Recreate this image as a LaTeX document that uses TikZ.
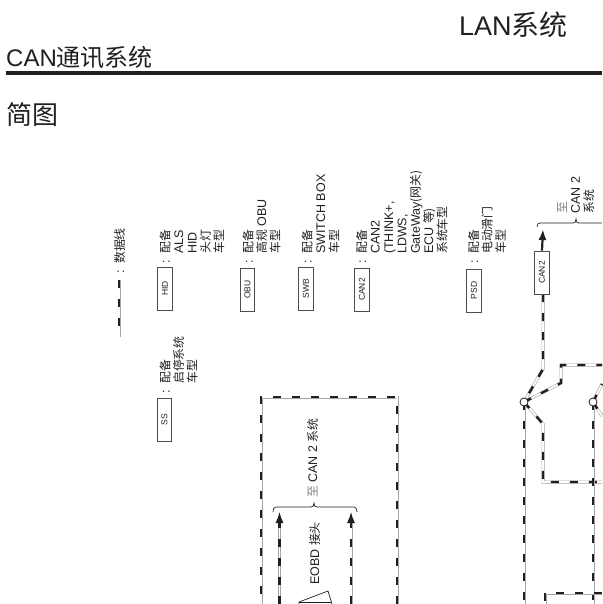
\documentclass[tikz,border=0pt]{standalone}
\usepackage{fontspec}
\setmainfont{Liberation Sans}
\newfontfamily\cjk{Noto Sans CJK SC}
\newfontfamily\cjks[Scale=0.95]{Noto Sans CJK SC}
\usetikzlibrary{arrows.meta}
\definecolor{ink}{HTML}{231F20}
\newcommand{\cln}{\llap{:\hspace{6.5pt}}}
\tikzset{
 canline/.style={preaction={draw=gray!70,line width=3pt,solid},preaction={draw=white,line width=1.8pt,solid},draw=ink,line width=2.4pt,dash pattern=on 8pt off 11pt},
 tagbox/.style={draw=ink!80,line width=.9pt,fill=white,minimum width=43pt,minimum height=14.5pt,inner sep=0pt,rotate=90,font=\fontsize{8.5}{9}\selectfont,text=ink},
 note/.style={rotate=90,anchor=north west,align=left,text=ink,font=\fontsize{12.5}{13.4}\selectfont,inner sep=0pt},
 brace/.style={draw=ink,line width=.7pt},
 title/.style={anchor=base west,text=ink,inner sep=0pt},
 solidhead/.style={-{Latex[length=11pt,width=8pt]},ink,line width=2.2pt},
 junction/.style={circle,draw=ink,line width=.8pt,fill=white,inner sep=0pt,minimum size=8pt}
}
\begin{document}
\begin{tikzpicture}[x=1pt,y=-1pt]
\useasboundingbox (0,0) rectangle (602,604);
\node[title,font=\fontsize{27}{27}\selectfont] (t1) at (459,36) {LAN{\cjk\fontsize{28}{28}\selectfont 系统}};
\node[title,font=\fontsize{24}{24}\selectfont] (t2) at (6,67) {CAN{\cjk 通讯系统}};
\coordinate (r1) at (6,73.5); \coordinate (r2) at (602,73.5);
\draw[ink,line width=4pt] (r1) -- (r2);
\node[title,font=\fontsize{26}{26}\selectfont] (t3) at (6,125) {\cjk 简图};
% legend
\coordinate (l1) at (119,280); \coordinate (l2) at (119,336.5);
\draw[canline] (l1) -- (l2);
\node[note] (n0) at (114,264) {\cln{\cjks 数据线}};
\node[tagbox] (hid) at (165,288.5) {HID};
\node[note] (n1) at (159.5,254) {\cln{\cjks 配备}\\ALS\\HID\\{\cjks 头灯}\\{\cjks 车型}};
\node[tagbox] (obu) at (247.5,289.5) {OBU};
\node[note] (n2) at (242.5,254) {\cln{\cjks 配备}\\{\cjks 高规} OBU\\{\cjks 车型}};
\node[tagbox] (swb) at (306,288.5) {SWB};
\node[note] (n3) at (301.5,254) {\cln{\cjks 配备}\\SWITCH BOX\\{\cjks 车型}};
\node[tagbox] (can) at (362,289.5) {CAN2};
\node[note] (n4) at (356,254) {\cln{\cjks 配备}\\CAN2\\(THINK+,\\LDWS,\\GateWay{\cjks (网关)}\\ECU {\cjks 等)}\\{\cjks 系统车型}};
\node[tagbox] (psd) at (474,290.5) {PSD};
\node[note] (n5) at (468,254) {\cln{\cjks 配备}\\{\cjks 电动滑门}\\{\cjks 车型}};
\node[tagbox] (ss) at (164.5,419.5) {SS};
\node[note] (n6) at (159.5,384) {\cln{\cjks 配备}\\{\cjks 启停系统}\\{\cjks 车型}};
% CAN2 right
\coordinate (c1) at (543,294);
\coordinate (c2) at (543,229);
\coordinate (j1) at (524,402);
\coordinate (j2) at (593,402);
\coordinate (a1) at (543,369);
\coordinate (a2) at (561,383);
\coordinate (a3) at (561,365);
\coordinate (a4) at (602,365);
\coordinate (b1) at (543,424);
\coordinate (b2) at (543,482);
\coordinate (b3) at (602,482);
\coordinate (d1) at (524,604);
\coordinate (d2) at (593,604);
\coordinate (e0) at (602,593);
\coordinate (e1) at (545,593);
\coordinate (e2) at (545,604);
\coordinate (f1) at (602,384);
\coordinate (f2) at (602,416);
\draw[canline] (c1) -- (a1) -- (j1);
\draw[canline] (j1) -- (a2) -- (a3) -- (a4);
\draw[canline] (j1) -- (b1) -- (b2) -- (b3);
\draw[canline] (j1) -- (d1);
\draw[canline] (j2) -- (d2);
\draw[canline] (j2) -- (f1);
\draw[canline] (j2) -- (f2);
\draw[canline] (e0) -- (e1) -- (e2);
\node[tagbox] (can2) at (542,272.5) {CAN2};
\draw[solidhead] (can2.east) -- (c2);
\node[junction] (o1) at (j1) {};
\node[junction] (o2) at (j2) {};
\draw[brace] (537,227) .. controls (537,224) and (538,223) .. (540,223) -- (573,223) .. controls (575,223) and (576,222) .. (576,219) .. controls (576,222) and (577,223) .. (579,223) -- (602,223);
\node[note] (n7) at (557,214) {{\cjks\color{gray} 至}\\CAN 2\\{\cjks 系统}};
% dashed box
\coordinate (x0) at (397,604); \coordinate (x1) at (397,397); \coordinate (x2) at (261,397); \coordinate (x3) at (261,604);
\draw[canline] (x0) -- (x1) -- (x2) -- (x3);
\coordinate (p1) at (279.5,604); \coordinate (p2) at (279.5,512);
\coordinate (q1) at (351,604); \coordinate (q2) at (351,512);
\coordinate (p3) at (279.5,522); \coordinate (q3) at (351,522);
\draw[canline] (p1) -- (p3);
\draw[canline] (q1) -- (q3);
\draw[solidhead,line width=1.2pt] (p3) -- (p2);
\draw[solidhead,line width=1.2pt] (q3) -- (q2);
\draw[brace] (273,512) .. controls (273,509) and (274,507) .. (276,507) -- (311,507) .. controls (313,507) and (314,506) .. (314,503) .. controls (314,506) and (315,507) .. (317,507) -- (354,507) .. controls (356,507) and (357,509) .. (357,512);
\node[note] (n8) at (307,498) {{\cjks\color{gray} 至} CAN 2 {\cjks 系统}};
\node[note] (n9) at (309,585) {EOBD {\cjks 接头}};
\draw[ink,line width=.7pt] (299,604) -- (299,602) -- (328,591) -- (332,604);
\draw[ink,line width=.7pt] (299,602) -- (331,602);
\end{tikzpicture}
\end{document}
